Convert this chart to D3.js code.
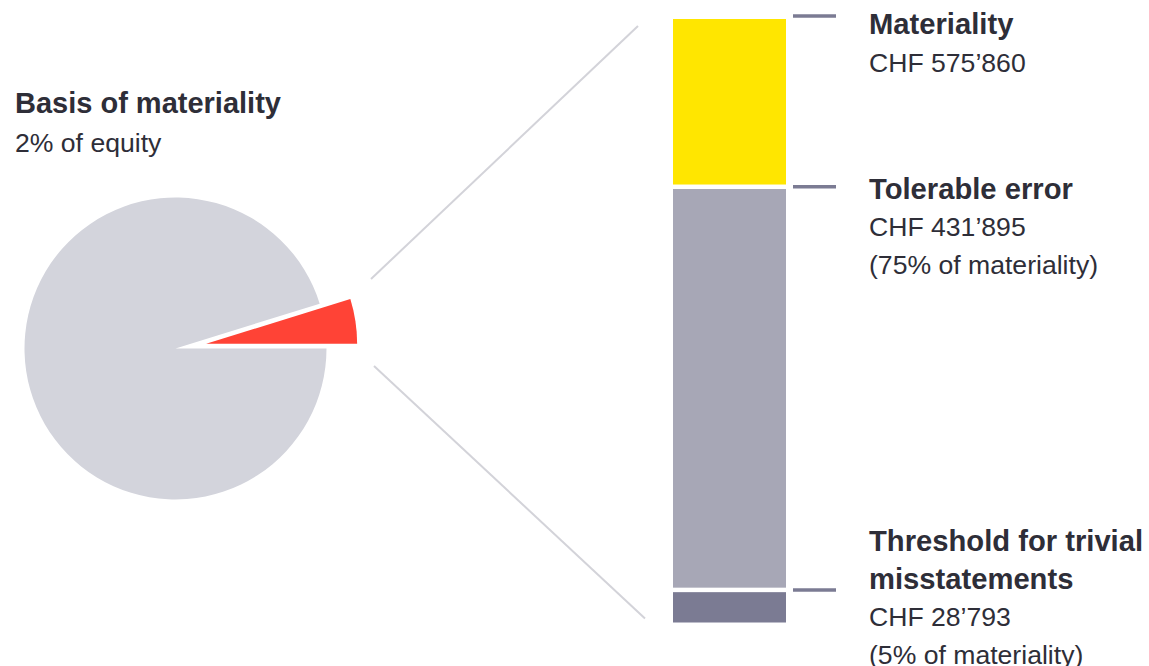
<!DOCTYPE html>
<html>
<head>
<meta charset="utf-8">
<script src="https://cdn.jsdelivr.net/npm/d3@7"></script>
<style>
  body { margin: 0; background: #fff; }
  svg { display: block; font-family: "Liberation Sans", Arial, sans-serif; }
</style>
</head>
<body>
<div id="chart"></div>
<script>
// pie: share of equity used as basis (slice)
const pieNames = ["Basis", "Rest of equity"];
const pieShares = [4.8, 95.2];
const pieColors = ["#ff4336", "#d3d4dc"];

// bar segments, bottom to top (share of bar height)
const barNames = ["Threshold", "Tolerable error", "Materiality"];
const barShares = [5.4, 66.8, 27.8];
const barColors = ["#7b7b93", "#a7a7b6", "#ffe600"];

// labels on the right, top to bottom
const labelTitles = [["Materiality"], ["Tolerable error"], ["Threshold for trivial", "misstatements"]];
const labelLines = [["CHF 575\u2019860"], ["CHF 431\u2019895", "(75% of materiality)"], ["CHF 28\u2019793", "(5% of materiality)"]];

const pieTitle = "Basis of materiality";
const pieSub = "2% of equity";

const W = 1149, H = 666;
const textColor = "#2e2e38";

var svg = d3.select("#chart").append("svg")
  .attr("width", W)
  .attr("height", H);

// ---- pie ----
var cx = 175.5, cy = 348.5, r = 151, explode = 31;
var total = d3.sum(pieShares);
var start = Math.PI / 2 - 2 * Math.PI * pieShares[0] / total;

var pie = d3.pie().sort(null).startAngle(start).endAngle(start + 2 * Math.PI);
var arc = d3.arc().innerRadius(0).outerRadius(r);
var arcs = pie(pieShares);

var pieG = svg.append("g").attr("transform", "translate(" + cx + "," + cy + ")");
pieG.selectAll("path")
  .data(arcs)
  .enter()
  .append("path")
  .attr("d", arc)
  .attr("fill", (d, i) => pieColors[i])
  .attr("transform", function (d, i) {
    if (i !== 0) return null;
    var mid = (d.startAngle + d.endAngle) / 2;
    return "translate(" + (Math.sin(mid) * explode) + "," + (-Math.cos(mid) * explode) + ")";
  });

// pie title
svg.append("text")
  .attr("x", 15).attr("y", 113)
  .attr("font-size", "29px").attr("font-weight", "bold")
  .attr("fill", textColor)
  .text(pieTitle);
svg.append("text")
  .attr("x", 15).attr("y", 152)
  .attr("font-size", "26.6px")
  .attr("fill", textColor)
  .text(pieSub);

// ---- bar ----
var barX = 673, barW = 113, gap = 4.5;
var y = d3.scaleLinear().domain([0, d3.sum(barShares)]).range([622.5, 19]);

var cum = d3.cumsum(barShares);
var segs = barShares.map((v, i) => ({ name: barNames[i], y0: i ? cum[i - 1] : 0, y1: cum[i] }));

svg.append("g")
  .selectAll("rect")
  .data(segs)
  .enter()
  .append("rect")
  .attr("x", barX)
  .attr("width", barW)
  .attr("y", (d, i) => y(d.y1) + (i < segs.length - 1 ? gap / 2 : 0))
  .attr("height", (d, i) => y(d.y0) - y(d.y1) - (i < segs.length - 1 ? gap / 2 : 0) - (i > 0 ? gap / 2 : 0))
  .attr("fill", (d, i) => barColors[i]);

// connector lines from pie slice to bar
var lineColor = "#d3d3d9";
svg.append("line")
  .attr("x1", 371).attr("y1", 279)
  .attr("x2", barX - 35).attr("y2", y(d3.sum(barShares)) + 7)
  .attr("stroke", lineColor).attr("stroke-width", 2);
svg.append("line")
  .attr("x1", 374).attr("y1", 366)
  .attr("x2", barX - 28).attr("y2", y(0) - 4)
  .attr("stroke", lineColor).attr("stroke-width", 2);

// tick marks at the boundaries (top to bottom)
var tickYs = [y(cum[2]) - 3, y(cum[1]), y(cum[0])];
svg.append("g")
  .selectAll("line")
  .data(tickYs)
  .enter()
  .append("line")
  .attr("x1", 793).attr("x2", 836)
  .attr("y1", d => d).attr("y2", d => d)
  .attr("stroke", "#7b7b93").attr("stroke-width", 3.5);

// labels
var lineH = 37.5;
var firstBase = [tickYs[0] + 18, tickYs[1] + 12, tickYs[2] - 38.5];
labelTitles.forEach(function (titles, k) {
  var g = svg.append("text").attr("fill", textColor);
  var rows = titles.map(t => ({ t: t, bold: true })).concat(labelLines[k].map(t => ({ t: t, bold: false })));
  rows.forEach(function (row, j) {
    g.append("tspan")
      .attr("x", 869)
      .attr("y", firstBase[k] + j * lineH)
      .attr("font-size", row.bold ? "29.2px" : "26.6px")
      .attr("font-weight", row.bold ? "bold" : "normal")
      .text(row.t);
  });
});
</script>
</body>
</html>
